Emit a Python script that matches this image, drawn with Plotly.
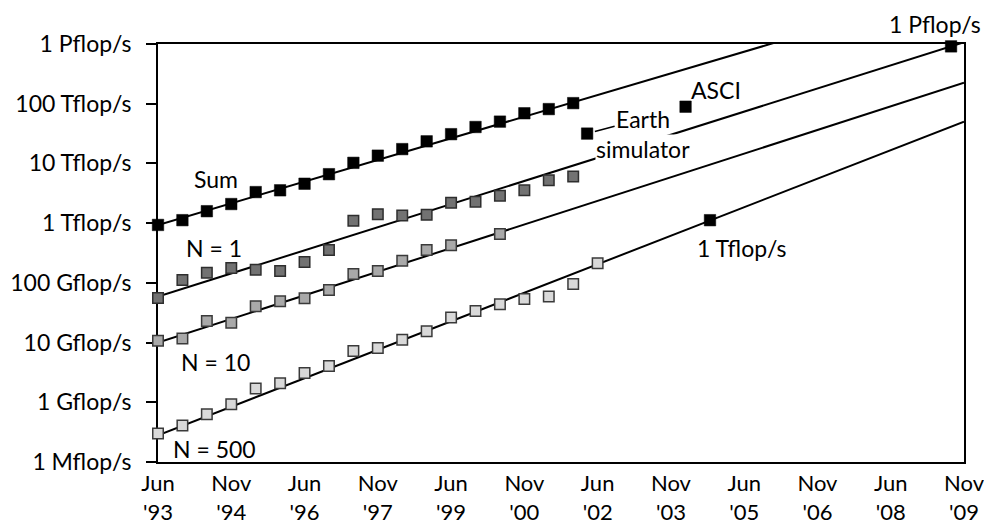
import math
import plotly.graph_objects as go

# ---- data (performance in Gflop/s, x = half-yearly TOP500 list index, Jun '93 = 0) ----
tick_pos = [0, 3, 6, 9, 12, 15, 18, 21, 24, 27, 30, 33]
tick_text = ["Jun<br>'93", "Nov<br>'94", "Jun<br>'96", "Nov<br>'97", "Jun<br>'99", "Nov<br>'00",
             "Jun<br>'02", "Nov<br>'03", "Jun<br>'05", "Nov<br>'06", "Jun<br>'08", "Nov<br>'09"]
y_tick_vals = [1e8, 1e9, 1e10, 1e11, 1e12, 1e13, 1e14, 1e15]
y_tick_text = ["1 Mflop/s", "1 Gflop/s", "10 Gflop/s", "100 Gflop/s", "1 Tflop/s",
               "10 Tflop/s", "100 Tflop/s", "1 Pflop/s"]

sum_x = list(range(18))
sum_gf = [933, 1122, 1585, 2089, 3311, 3548, 4571, 6607, 10233, 13490, 17378, 23442,
          30903, 40738, 50119, 69183, 81283, 102329]

n1_x = list(range(18))
n1_gf = [56, 112, 148, 178, 166, 158, 224, 355, 1096, 1413, 1349, 1380, 2188, 2291,
         2884, 3548, 5248, 6026]

n10_x = list(range(15))
n10_gf = [10.7, 11.7, 22.9, 21.4, 40.7, 49.0, 55.0, 75.9, 141, 158, 234, 355, 427, None, 661]

n500_x = list(range(19))
n500_gf = [0.30, 0.41, 0.63, 0.93, 1.70, 2.09, 3.09, 4.07, 7.24, 8.13, 11.2, 15.5, 26.3,
           33.9, 43.7, 53.7, 58.9, 95.5, 214]

special_names = ["Earth simulator", "ASCI", "1 Tflop/s", "1 Pflop/s"]
special_x = [17.57, 21.6, 22.6, 32.47]
special_gf = [31600, 89100, 1120, 912000]

trend_x = [0, 33]
sum_trend_gf = [933, 9.1e6]
n1_trend_gf = [58.9, 1.07e6]
n10_trend_gf = [10.0, 2.24e5]
n500_trend_gf = [0.28, 5.0e4]

G = 1e9
def fl(v):
    return [None if a is None else a * G for a in v]

fig = go.Figure()

for tg in [sum_trend_gf, n1_trend_gf, n10_trend_gf, n500_trend_gf]:
    fig.add_trace(go.Scatter(x=trend_x, y=fl(tg), mode="lines",
                             line=dict(color="black", width=2), hoverinfo="skip",
                             showlegend=False))

def markers(x, y, fill, size, lw, lc):
    fig.add_trace(go.Scatter(x=x, y=fl(y), mode="markers", cliponaxis=False, showlegend=False,
                             marker=dict(symbol="square", size=size, color=fill,
                                         line=dict(color=lc, width=lw))))

markers(n500_x, n500_gf, "#d9d9d9", 10.5, 1.5, "#3a3a3a")
markers(n10_x, n10_gf, "#a9a9a9", 10.5, 1.5, "#3a3a3a")
markers(n1_x, n1_gf, "#727272", 10.5, 1.5, "#2e2e2e")
markers(sum_x, sum_gf, "#000000", 11.5, 0.5, "#000000")
markers(special_x, special_gf, "#000000", 11.5, 0.5, "#000000")

FONT = "Lato"
FS = 23
def note(text, x, ylog, **kw):
    fig.add_annotation(x=x, y=ylog, text=text, showarrow=False,
                       xanchor="center", yanchor="middle",
                       font=dict(family=FONT, size=FS, color="black"), **kw)

note("Sum", 2.37, 12.74)
note("N = 1", 2.29, 11.58)
note("N = 10", 2.37, 9.675)
note("N = 500", 2.33, 8.22)
note("ASCI", 22.85, 14.23)
note("1 Tflop/s", 23.87, 11.58)
note("1 Pflop/s", 31.82, 1.048, yref="paper")
note("simulator", 19.86, 13.24, bgcolor="white", borderpad=0)
fig.add_annotation(x=special_x[0], y=math.log10(special_gf[0] * G), text="Earth",
                   showarrow=True, arrowhead=0, arrowwidth=1.5, arrowcolor="black",
                   ax=56, ay=-15, standoff=8,
                   font=dict(family=FONT, size=FS, color="black"))

# page body has an 8px default margin; margins compensate so the plot box sits at x 158-964, y 44-462
fig.update_layout(
    width=992, height=525,
    margin=dict(l=150, r=36, t=36, b=71),
    paper_bgcolor="white", plot_bgcolor="white",
    font=dict(family=FONT, size=FS, color="black"),
    showlegend=False,
)
fig.update_xaxes(range=[0, 33], tickvals=tick_pos, ticktext=tick_text, showgrid=False,
                 zeroline=False, showline=True, linecolor="black", linewidth=2, mirror=True,
                 ticks="", ticklabelstandoff=1, layer="below traces", automargin=False,
                 tickfont=dict(family=FONT, size=22, color="black"))
fig.update_yaxes(type="log", range=[8, 15], tickvals=y_tick_vals, ticktext=y_tick_text,
                 showgrid=False, zeroline=False, showline=True, linecolor="black",
                 linewidth=2, mirror=True, ticks="outside", ticklen=10, tickwidth=2,
                 tickcolor="black", ticklabelstandoff=10, layer="below traces",
                 automargin=False,
                 tickfont=dict(family=FONT, size=FS, color="black"))

fig.write_html("out.html")
